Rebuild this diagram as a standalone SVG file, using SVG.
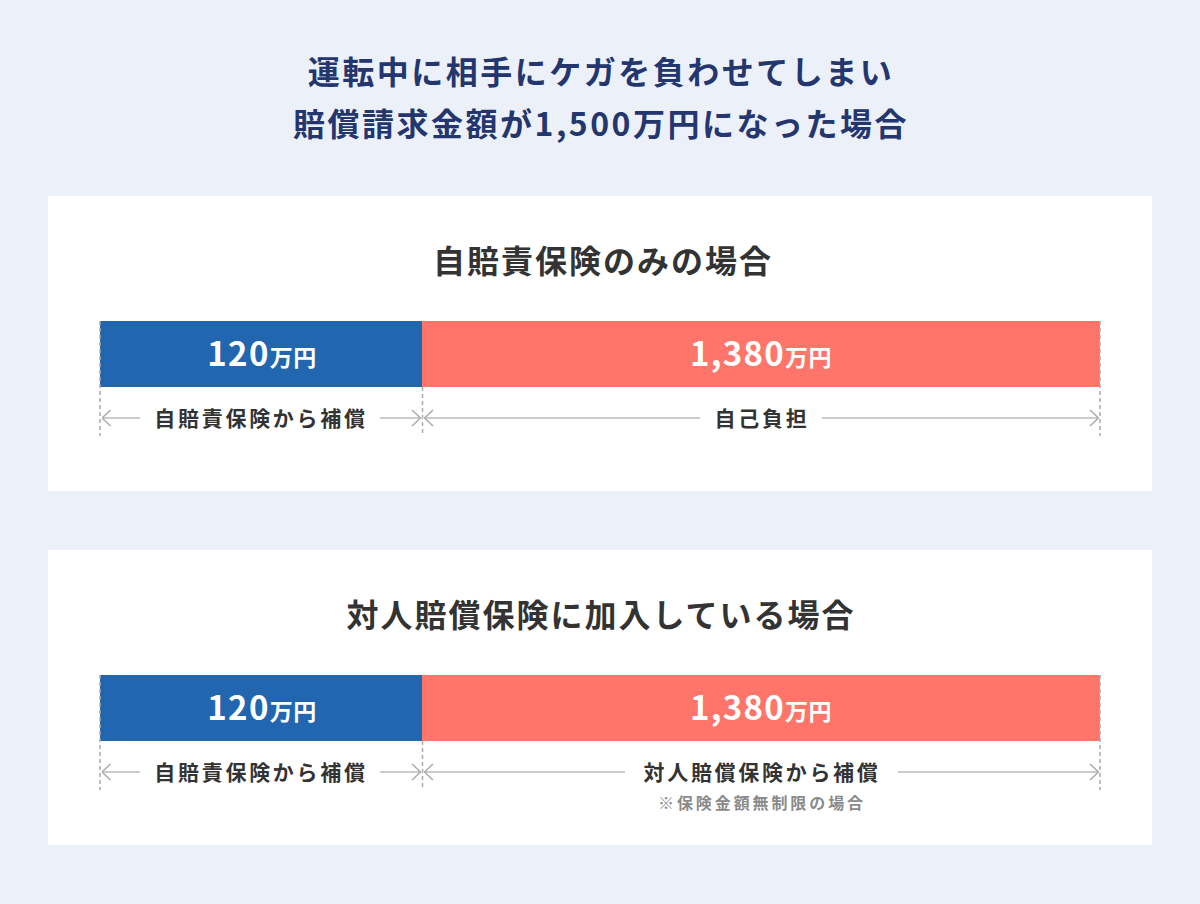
<svg xmlns="http://www.w3.org/2000/svg" width="1200" height="904" viewBox="0 0 1200 904">
<defs>
<style>
text{font-family:"Noto Sans CJK JP","Noto Sans",sans-serif;font-weight:700;text-anchor:middle}
.title{font-size:32px;fill:#24366E;letter-spacing:2.5px}
.head{font-size:32px;fill:#333333;letter-spacing:2px}
.num{font-size:33px;fill:#FFFFFF;letter-spacing:1.3px}
.unit{font-size:23px;letter-spacing:0.5px}
.lbl{font-size:21px;fill:#333333;letter-spacing:2.7px}
.note{font-size:16px;fill:#8A8A8A;letter-spacing:2.9px}
.dash{stroke:#AAAAAA;stroke-width:1.5;stroke-dasharray:4 3;fill:none}
.half{stroke:#BBBBBB;stroke-width:1.5;fill:none}
</style>
<marker id="chev" viewBox="0 0 10 18" refX="9.5" refY="9" markerWidth="10" markerHeight="18" markerUnits="userSpaceOnUse" orient="auto-start-reverse">
<path d="M1,1 L9.5,9 L1,17" fill="none" stroke="#AAAAAA" stroke-width="1.5"/>
</marker>
</defs>
<rect width="1200" height="904" fill="#ECF0F9"/>
<g id="title">
<text class="title" x="601" y="84">運転中に相手にケガを負わせてしまい</text>
<text class="title" x="601" y="136">賠償請求金額が1,500万円になった場合</text>
</g>
<g id="panel1">
<rect x="48" y="196" width="1104" height="295" fill="#FFFFFF"/>
<text class="head" x="603" y="273">自賠責保険のみの場合</text>
<rect x="100" y="321" width="322" height="66" fill="#2166AE"/>
<rect x="422" y="321" width="678" height="66" fill="#FF756A"/>
<text class="num" x="262" y="366">120<tspan class="unit">万円</tspan></text>
<text class="num" x="761" y="366">1,380<tspan class="unit">万円</tspan></text>
</g>
<g id="panel2">
<rect x="48" y="550" width="1104" height="295" fill="#FFFFFF"/>
<text class="head" x="601" y="627">対人賠償保険に加入している場合</text>
<rect x="100" y="675" width="322" height="66" fill="#2166AE"/>
<rect x="422" y="675" width="678" height="66" fill="#FF756A"/>
<text class="num" x="262" y="720">120<tspan class="unit">万円</tspan></text>
<text class="num" x="761" y="720">1,380<tspan class="unit">万円</tspan></text>
</g>
<g id="connectors">
<line class="dash" x1="100" y1="321" x2="100" y2="436"/>
<line class="dash" x1="422.5" y1="387" x2="422.5" y2="436"/>
<line class="dash" x1="1100" y1="321" x2="1100" y2="436"/>
<path class="half" d="M140,418 H102" marker-end="url(#chev)"/>
<path class="half" d="M380,418 H420.5" marker-end="url(#chev)"/>
<path class="half" d="M700,418 H424.5" marker-end="url(#chev)"/>
<path class="half" d="M822,418 H1098.5" marker-end="url(#chev)"/>
<line class="dash" x1="100" y1="675" x2="100" y2="790"/>
<line class="dash" x1="422.5" y1="741" x2="422.5" y2="790"/>
<line class="dash" x1="1100" y1="675" x2="1100" y2="790"/>
<path class="half" d="M140,772 H102" marker-end="url(#chev)"/>
<path class="half" d="M380,772 H420.5" marker-end="url(#chev)"/>
<path class="half" d="M625,772 H424.5" marker-end="url(#chev)"/>
<path class="half" d="M898,772 H1098.5" marker-end="url(#chev)"/>
</g>
<g id="labels">
<text class="lbl" x="261" y="426">自賠責保険から補償</text>
<text class="lbl" x="762" y="426">自己負担</text>
<text class="lbl" x="261" y="780">自賠責保険から補償</text>
<text class="lbl" x="762" y="780">対人賠償保険から補償</text>
<text class="note" x="762" y="809">※保険金額無制限の場合</text>
</g>
</svg>
